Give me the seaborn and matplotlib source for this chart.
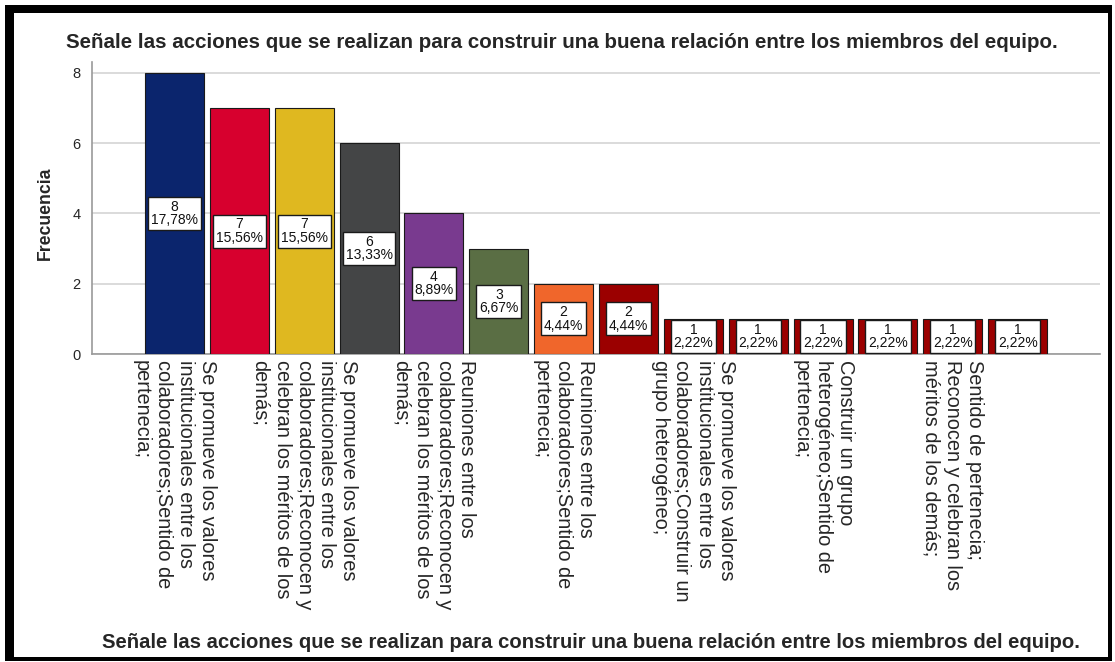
import matplotlib
matplotlib.use("Agg")
import matplotlib.pyplot as plt
import seaborn as sns
import pandas as pd
from matplotlib.patches import Rectangle

# ---- data ----
counts = [8, 7, 7, 6, 4, 3, 2, 2, 1, 1, 1, 1, 1, 1]
tick_labels = [
    "Se promueve los valores\ninstitucionales entre los\ncolaboradores;Sentido de\npertenecia;",
    "",
    "Se promueve los valores\ninstitucionales entre los\ncolaboradores;Reconocen y\ncelebran los méritos de los\ndemás;",
    "",
    "Reuniones entre los\ncolaboradores;Reconocen y\ncelebran los méritos de los\ndemás;",
    "",
    "Reuniones entre los\ncolaboradores;Sentido de\npertenecia;",
    "",
    "Se promueve los valores\ninstitucionales entre los\ncolaboradores;Construir un\ngrupo heterogéneo;",
    "",
    "Construir un grupo\nheterogéneo;Sentido de\npertenecia;",
    "",
    "Sentido de pertenecia;\nReconocen y celebran los\nméritos de los demás;",
    "",
]
bar_colors = ["#0b256d", "#d7002e", "#dfb820", "#444546", "#793a8f", "#5a6e44",
              "#f0662b", "#9b0000", "#9b0000", "#9b0000", "#9b0000", "#9b0000",
              "#9b0000", "#9b0000"]
title_text = "Señale las acciones que se realizan para construir una buena relación entre los miembros del equipo."
y_label = "Frecuencia"
y_ticks = [0, 2, 4, 6, 8]

sns.set_theme(style="white")
plt.rcParams["font.family"] = ["Liberation Sans", "DejaVu Sans"]

W, H = 1115, 662
fig = plt.figure(figsize=(W / 100, H / 100), dpi=100)
ax = fig.add_axes([91.7 / W, 1 - 354 / H, (1100 - 91.7) / W, (354 - 62) / H])

pos = list(range(len(counts)))
df = pd.DataFrame({"pos": pos, "count": counts})
sns.barplot(data=df, x="pos", y="count", hue="pos", palette=bar_colors,
            legend=False, width=0.91, edgecolor="#1a1a1a", linewidth=0.8,
            saturation=1, ax=ax, zorder=3)

total = sum(counts)
for i, c in enumerate(counts):
    pct = f"{c / total * 100:.2f}".replace(".", ",")
    ax.text(i, c / 2, f"{c}\n{pct}%", ha="center", va="center", fontsize=10,
            linespacing=0.95, zorder=5, color="#111111",
            bbox=dict(boxstyle="square,pad=0.2", fc="white", ec="#1a1a1a", lw=1.0))

ax.set_xlim(-1.277, len(counts) - 1 + 1.27)
ax.set_ylim(0, 8.31)
ax.set_yticks(y_ticks)
ax.set_yticklabels([str(t) for t in y_ticks], fontsize=10.5)
ax.set_xticks(pos)
ax.set_xticklabels(tick_labels, rotation=-90, fontsize=14.4, va="top", ha="center",
                   multialignment="left", linespacing=1.2)
ax.tick_params(axis="x", length=0, pad=4)
ax.tick_params(axis="y", length=0, pad=8)
ax.yaxis.grid(True, color="#d4d4d4", linewidth=1.2, zorder=0)
ax.set_axisbelow(True)
for s in ["top", "right"]:
    ax.spines[s].set_visible(False)
for s in ["left", "bottom"]:
    ax.spines[s].set_color("#9a9a9a")
    ax.spines[s].set_linewidth(1.2)
ax.set_xlabel("")
ax.set_ylabel("")

fig.text(45 / W, 1 - 213 / H, y_label, rotation=90, ha="center", va="center",
         fontsize=12.7, fontweight="bold")
fig.text(561.5 / W, 1 - 43 / H, title_text, ha="center", va="center",
         fontsize=14.8, fontweight="bold")
fig.text(591 / W, 1 - 643 / H, title_text, ha="center", va="center",
         fontsize=14.6, fontweight="bold")

# black frame
def px_rect(x0, y0, x1, y1):
    fig.add_artist(Rectangle((x0 / W, 1 - y1 / H), (x1 - x0) / W, (y1 - y0) / H,
                             transform=fig.transFigure, color="black", lw=0, zorder=10))

px_rect(5, 5, 1112, 13)
px_rect(5, 5, 14, 661)
px_rect(1108, 5, 1112, 661)
px_rect(5, 657, 1112, 661)

fig.savefig("out.png", dpi=100)
